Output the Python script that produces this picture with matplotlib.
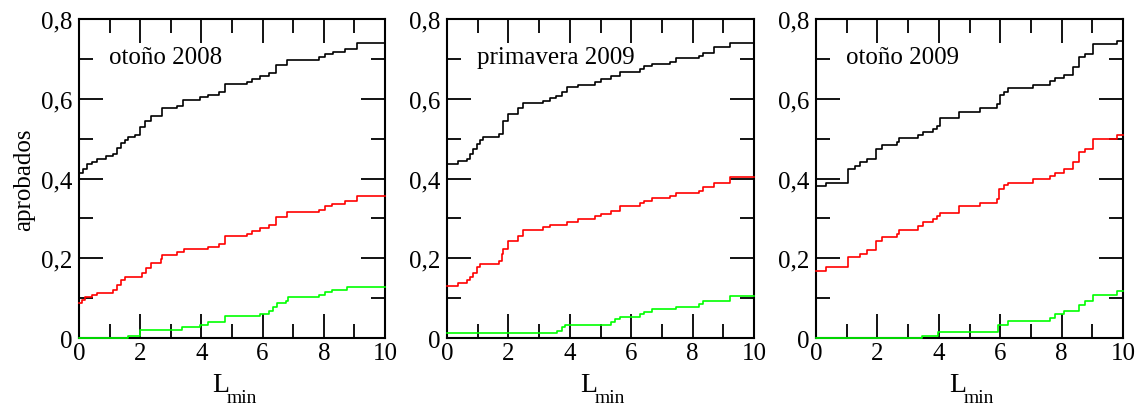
import matplotlib
matplotlib.use("Agg")
import matplotlib.pyplot as plt
from matplotlib.ticker import MultipleLocator, FuncFormatter

plt.rcParams['font.family'] = ['Liberation Serif', 'DejaVu Serif']

# =========================
# DATA (step curves, breakpoints -> value)
# =========================

titles = ["otoño 2008", "primavera 2009", "otoño 2009"]

# otoño 2008
x1_black = [0, 0.14, 0.25, 0.41, 0.60, 0.88, 1.10, 1.23, 1.36, 1.50, 1.61, 1.83, 1.99, 2.16, 2.37, 2.70,
            3.21, 3.41, 3.95, 4.23, 4.58, 4.77, 5.50, 5.64, 5.92, 6.22, 6.44, 6.81, 7.85, 8.04, 8.31, 8.69, 9.10]
y1_black = [0.415, 0.425, 0.436, 0.442, 0.449, 0.456, 0.461, 0.476, 0.489, 0.497, 0.503, 0.509, 0.528, 0.543,
            0.558, 0.577, 0.583, 0.598, 0.604, 0.609, 0.616, 0.637, 0.643, 0.650, 0.658, 0.665, 0.685, 0.698,
            0.704, 0.712, 0.718, 0.726, 0.739]
x1_red = [0, 0.09, 0.20, 0.41, 0.60, 1.10, 1.23, 1.39, 1.50, 2.05, 2.19, 2.37, 2.67, 2.70, 3.21, 3.43,
          4.23, 4.58, 4.77, 5.50, 5.64, 5.92, 6.22, 6.44, 6.81, 7.85, 8.04, 8.26, 8.69, 9.10]
y1_red = [0.087, 0.096, 0.102, 0.108, 0.114, 0.120, 0.133, 0.146, 0.154, 0.163, 0.175, 0.187, 0.198, 0.208,
          0.215, 0.222, 0.227, 0.236, 0.255, 0.262, 0.269, 0.275, 0.283, 0.303, 0.315, 0.322, 0.330, 0.337,
          0.344, 0.355]
x1_green = [0, 1.61, 1.99, 3.36, 3.95, 4.23, 4.77, 5.92, 6.22, 6.35, 6.46, 6.76, 6.84, 7.85, 8.04, 8.26, 8.77]
y1_green = [0.0, 0.006, 0.019, 0.027, 0.033, 0.039, 0.054, 0.060, 0.067, 0.077, 0.087, 0.094, 0.102, 0.108,
            0.115, 0.120, 0.127]

# primavera 2009
x2_black = [0, 0.37, 0.64, 0.75, 0.86, 0.97, 1.07, 1.18, 1.70, 1.81, 2.00, 2.32, 2.46, 3.14, 3.36, 3.55,
            3.74, 3.90, 4.25, 4.82, 5.01, 5.33, 5.64, 6.29, 6.40, 6.69, 7.26, 7.46, 8.19, 8.35, 8.70, 9.22]
y2_black = [0.436, 0.443, 0.449, 0.461, 0.474, 0.486, 0.497, 0.505, 0.512, 0.543, 0.562, 0.578, 0.589,
            0.595, 0.602, 0.608, 0.616, 0.629, 0.634, 0.641, 0.650, 0.658, 0.668, 0.675, 0.683, 0.687, 0.693,
            0.701, 0.708, 0.716, 0.729, 0.741]
x2_red = [0, 0.37, 0.64, 0.75, 0.86, 0.97, 1.07, 1.70, 1.78, 1.83, 2.00, 2.32, 2.46, 3.14, 3.36, 3.90,
          4.25, 4.82, 5.01, 5.33, 5.64, 6.29, 6.40, 6.69, 7.26, 7.46, 8.19, 8.35, 8.70, 9.22]
y2_red = [0.131, 0.138, 0.145, 0.152, 0.163, 0.177, 0.186, 0.194, 0.211, 0.223, 0.244, 0.257, 0.272, 0.278,
          0.284, 0.290, 0.298, 0.305, 0.312, 0.318, 0.332, 0.338, 0.344, 0.351, 0.357, 0.364, 0.369, 0.378,
          0.390, 0.403]
x2_green = [0, 3.57, 3.74, 3.84, 5.33, 5.47, 5.64, 6.29, 6.40, 6.69, 7.46, 8.19, 8.35, 9.20]
y2_green = [0.0125, 0.018, 0.027, 0.033, 0.039, 0.048, 0.053, 0.060, 0.066, 0.073, 0.079, 0.085, 0.092,
            0.106]

# otoño 2009
x3_black = [0, 0.33, 1.05, 1.27, 1.43, 1.65, 1.95, 2.14, 2.63, 2.71, 3.33, 3.47, 3.82, 3.95, 4.04, 4.64,
            5.34, 5.88, 5.99, 6.12, 6.26, 7.06, 7.62, 7.79, 8.06, 8.38, 8.58, 8.76, 9.03, 9.79]
y3_black = [0.380, 0.390, 0.424, 0.432, 0.441, 0.449, 0.474, 0.484, 0.491, 0.501, 0.509, 0.517, 0.524,
            0.532, 0.552, 0.568, 0.577, 0.587, 0.609, 0.618, 0.626, 0.634, 0.645, 0.652, 0.660, 0.679, 0.704,
            0.712, 0.737, 0.746]
x3_red = [0, 0.33, 1.05, 1.43, 1.65, 1.95, 2.14, 2.63, 2.71, 3.33, 3.47, 3.82, 3.95, 4.04, 4.64, 5.34,
          5.88, 5.97, 6.12, 6.26, 7.06, 7.62, 7.79, 8.06, 8.38, 8.58, 8.76, 9.03, 9.79]
y3_red = [0.169, 0.177, 0.202, 0.211, 0.221, 0.244, 0.254, 0.261, 0.271, 0.282, 0.290, 0.298, 0.305,
          0.313, 0.330, 0.339, 0.349, 0.374, 0.384, 0.390, 0.399, 0.407, 0.415, 0.424, 0.441, 0.466, 0.474,
          0.499, 0.509]
x3_green = [0, 3.44, 3.98, 5.94, 6.26, 7.62, 7.79, 8.06, 8.55, 8.76, 9.03, 9.79]
y3_green = [0.0, 0.006, 0.016, 0.033, 0.042, 0.049, 0.059, 0.067, 0.084, 0.092, 0.109, 0.119]

panels = [
    [(x1_black, y1_black, "black"), (x1_red, y1_red, "#ff0000"), (x1_green, y1_green, "#00ff00")],
    [(x2_black, y2_black, "black"), (x2_red, y2_red, "#ff0000"), (x2_green, y2_green, "#00ff00")],
    [(x3_black, y3_black, "black"), (x3_red, y3_red, "#ff0000"), (x3_green, y3_green, "#00ff00")],
]

# =========================
# PLOT
# =========================

fig = plt.figure(figsize=(11.41, 4.06), dpi=100)

lefts = [0.0692, 0.3918, 0.7152]
widths = [0.2682, 0.2691, 0.2691]

comma = FuncFormatter(lambda v, p: "0" if abs(v) < 1e-9 else ("%.1f" % v).replace(".", ","))

for k, curves in enumerate(panels):
    ax = fig.add_axes([lefts[k], 0.165, widths[k], 0.7857])

    for xs, ys, c in curves:
        ax.step(list(xs) + [10], list(ys) + [ys[-1]], where="post", color=c, lw=1.2,
                zorder=3, clip_on=False)

    ax.set_xlim(0, 10)
    ax.set_ylim(0, 0.8)
    ax.xaxis.set_major_locator(MultipleLocator(2))
    ax.xaxis.set_minor_locator(MultipleLocator(1))
    ax.yaxis.set_major_locator(MultipleLocator(0.2))
    ax.yaxis.set_minor_locator(MultipleLocator(0.1))
    ax.yaxis.set_major_formatter(comma)

    ax.tick_params(which="both", direction="in", top=True, right=True, width=1.3, labelsize=18)
    ax.tick_params(which="major", length=17)
    ax.tick_params(axis="y", which="major", pad=5)
    ax.tick_params(axis="x", which="major", pad=3)
    ax.tick_params(which="minor", length=10)
    for s in ax.spines.values():
        s.set_linewidth(1.5)

    ax.text(0.97, 0.69, titles[k], fontsize=18, ha="left", va="baseline")

    # x label: L with subscript "min"
    ax.text(0.435, -0.166, "L", transform=ax.transAxes, fontsize=20, ha="left", va="baseline")
    ax.text(0.482, -0.200, "min", transform=ax.transAxes, fontsize=14, ha="left", va="baseline")

    if k == 0:
        ax.set_ylabel("aprobados", fontsize=18, labelpad=4)

fig.savefig("out.png", dpi=100)
